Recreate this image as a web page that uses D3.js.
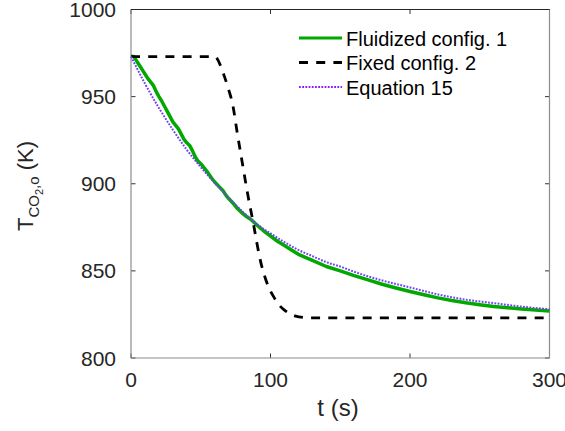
<!DOCTYPE html>
<html>
<head>
<meta charset="utf-8">
<script src="https://cdn.jsdelivr.net/npm/d3@7"></script>
<style>
  body { margin: 0; background: #fff; }
  svg { display: block; font-family: "Liberation Sans", Arial, sans-serif; }
</style>
</head>
<body>
<div id="chart"></div>
<script>
// series
var fluidTime = [0, 2, 4, 6, 8, 10, 12, 14, 16, 18, 20, 22, 24, 26, 28, 30, 32, 34, 36, 38, 40, 42, 44, 46, 48, 50,
  52, 55, 58, 60, 63, 66, 68, 70, 73, 76, 80, 83, 86, 90, 95, 100, 105, 110, 115, 120, 130, 140, 150, 160, 170, 180,
  190, 200, 210, 220, 230, 240, 250, 260, 270, 280, 290, 300];
var fluidTemp = [973, 973, 970.5, 968, 965.5, 963, 960.5, 958.5, 956.5, 953, 950, 947.5, 944.5, 941.5, 938.5, 935.5,
  933.5, 931.5, 928.5, 925.5, 923.5, 922, 919, 915.5, 913, 911.5, 909.5, 906.5, 903, 901, 898.5, 896, 893.5, 891.5,
  889, 886, 883, 881, 879.5, 876.5, 873, 870, 867, 864.5, 862, 859.5, 856, 852.5, 850, 847.3, 844.8, 842.3, 840.2,
  838.2, 836.3, 834.5, 833, 831.7, 830.6, 829.6, 828.8, 828.1, 827.5, 827];

var fixedTime = [0, 60, 62, 65, 67, 70, 73, 76, 80, 84, 88, 90, 93, 96, 99, 102, 106, 110, 114, 118, 124, 130, 300];
var fixedTemp = [973, 973, 971.5, 966, 961.5, 954, 945, 930, 911, 892.5, 876, 867, 855, 846.5, 840, 835.5, 830.5,
  827.5, 825.3, 824, 823.2, 823, 823];

var eqTime = [0, 10, 20, 30, 40, 50, 60, 70, 80, 90, 100, 110, 120, 130, 140, 150, 160, 180, 200, 220, 240, 260, 280, 300];
var eqTemp = [973, 957.5, 943.5, 931, 919.5, 909.5, 900.5, 892, 884, 877, 871.5, 866.5, 862, 858.5, 855, 852.5,
  849.5, 844.5, 840.5, 836.5, 833.5, 831.5, 829.5, 828];

var xTicks = [0, 100, 200, 300];
var yTicks = [800, 850, 900, 950, 1000];
var legendNames = ["Fluidized config. 1", "Fixed config. 2", "Equation 15"];

var width = 565, height = 431;
var margin = {left: 131, right: 15.5, top: 9.5, bottom: 73};

var svg = d3.select("#chart").append("svg")
  .attr("width", width)
  .attr("height", height);

svg.append("rect").attr("width", width).attr("height", height).attr("fill", "#fff");

var x = d3.scaleLinear().domain([0, 300]).range([margin.left, width - margin.right]);
var y = d3.scaleLinear().domain([800, 1000]).range([height - margin.bottom, margin.top]);

var x0 = x.range()[0], x1 = x.range()[1], y0 = y.range()[0], y1 = y.range()[1];

// ticks (inward) on all four sides
var tickLen = 4.5;
var ticks = svg.append("g").attr("stroke", "#333").attr("stroke-width", 1);
xTicks.forEach(function (t) {
  ticks.append("line").attr("x1", x(t)).attr("x2", x(t)).attr("y1", y0).attr("y2", y0 - tickLen);
  ticks.append("line").attr("x1", x(t)).attr("x2", x(t)).attr("y1", y1).attr("y2", y1 + tickLen);
});
yTicks.forEach(function (v) {
  ticks.append("line").attr("x1", x0).attr("x2", x0 + tickLen).attr("y1", y(v)).attr("y2", y(v));
  ticks.append("line").attr("x1", x1).attr("x2", x1 - tickLen).attr("y1", y(v)).attr("y2", y(v));
});

// frame: grey left/bottom/right, dark top
svg.append("line").attr("x1", x0).attr("x2", x0).attr("y1", y1).attr("y2", y0).attr("stroke", "#8c8c8c").attr("stroke-width", 1.2);
svg.append("line").attr("x1", x0).attr("x2", x1).attr("y1", y0).attr("y2", y0).attr("stroke", "#8c8c8c").attr("stroke-width", 1.2);
svg.append("line").attr("x1", x1).attr("x2", x1).attr("y1", y1).attr("y2", y0).attr("stroke", "#8c8c8c").attr("stroke-width", 1.2);
svg.append("line").attr("x1", x0).attr("x2", x1).attr("y1", y1).attr("y2", y1).attr("stroke", "#262626").attr("stroke-width", 1.2);

// tick labels
svg.append("g").selectAll("text").data(xTicks).join("text")
  .attr("x", function (d) { return x(d); })
  .attr("y", y0 + 29)
  .attr("text-anchor", "middle")
  .attr("font-size", 21)
  .attr("fill", "#262626")
  .text(function (d) { return d; });

svg.append("g").selectAll("text").data(yTicks).join("text")
  .attr("x", x0 - 15)
  .attr("y", function (d) { return y(d) + 7.5; })
  .attr("text-anchor", "end")
  .attr("font-size", 21)
  .attr("fill", "#262626")
  .text(function (d) { return d; });

// axis titles
svg.append("text")
  .attr("x", 338).attr("y", 416)
  .attr("text-anchor", "middle")
  .attr("font-size", 24)
  .attr("fill", "#262626")
  .text("t (s)");

var yl = svg.append("text")
  .attr("transform", "translate(33,186) rotate(-90)")
  .attr("text-anchor", "middle")
  .attr("font-size", 22)
  .attr("fill", "#262626");
yl.append("tspan").text("T");
yl.append("tspan").attr("font-size", 15).attr("dy", 6).text("CO");
yl.append("tspan").attr("font-size", 11).attr("dy", 4).text("2");
yl.append("tspan").attr("font-size", 15).attr("dy", -4).text(",o");
yl.append("tspan").attr("dy", -6).text(" (K)");

// curves
var line = d3.line()
  .x(function (d) { return x(d[0]); })
  .y(function (d) { return y(d[1]); });

var plot = svg.append("g");

plot.append("path")
  .datum(d3.zip(fluidTime, fluidTemp))
  .attr("d", line)
  .attr("fill", "none")
  .attr("stroke", "#00a800")
  .attr("stroke-width", 3.5)
  .attr("stroke-linejoin", "round");

plot.append("path")
  .datum(d3.zip(fixedTime, fixedTemp))
  .attr("d", line.curve(d3.curveMonotoneX))
  .attr("fill", "none")
  .attr("stroke", "#000")
  .attr("stroke-width", 2.8)
  .attr("stroke-dasharray", "9,8.2");

plot.append("path")
  .datum(d3.zip(eqTime, eqTemp))
  .attr("d", line.curve(d3.curveMonotoneX))
  .attr("fill", "none")
  .attr("stroke", "#7040f5")
  .attr("stroke-width", 2)
  .attr("stroke-dasharray", "1.8,1.4");

// legend
var legStyles = [
  {stroke: "#00a800", w: 3, dash: null},
  {stroke: "#000", w: 2.8, dash: "9,8.2"},
  {stroke: "#8c1cff", w: 2, dash: "1.8,1.4"}
];
var leg = svg.append("g");
legendNames.forEach(function (name, i) {
  var ry = 38 + i * 24.5;
  var s = legStyles[i];
  var l = leg.append("line")
    .attr("x1", 299).attr("x2", 342).attr("y1", ry).attr("y2", ry)
    .attr("stroke", s.stroke).attr("stroke-width", s.w);
  if (s.dash) l.attr("stroke-dasharray", s.dash);
  leg.append("text")
    .attr("x", 346).attr("y", ry + 7.5)
    .attr("font-size", 20)
    .attr("fill", "#000")
    .text(name);
});
</script>
</body>
</html>
